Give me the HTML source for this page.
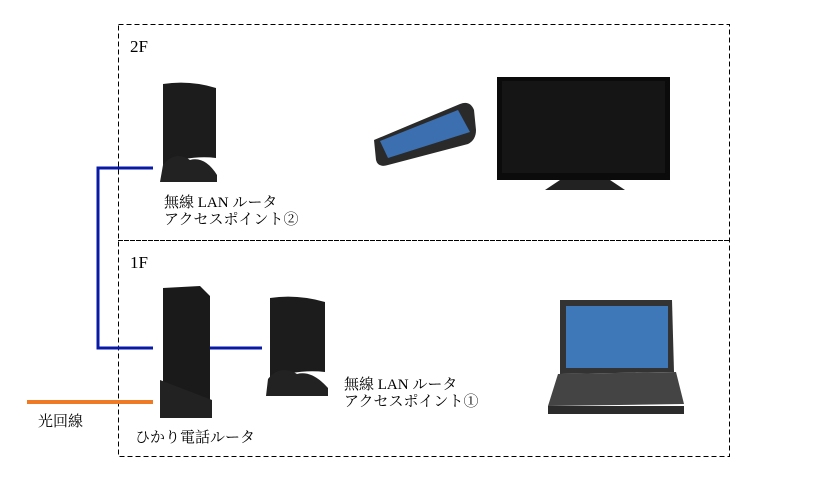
<!DOCTYPE html>
<html><head><meta charset="utf-8"><style>
body{margin:0;width:813px;height:498px;background:#fff;position:relative;overflow:hidden;font-family:"Liberation Serif","Noto Serif CJK SC",serif;}
.t{position:absolute;font-size:15px;color:#000;line-height:17px;white-space:nowrap}
.a{position:absolute}
</style></head><body>
<svg class="a" style="left:0;top:0" width="813" height="498">
<rect x="118.5" y="24.5" width="611" height="432" fill="none" stroke="#000" stroke-dasharray="5,3"/>
<line x1="118" y1="240.5" x2="729" y2="240.5" stroke="#000" stroke-dasharray="5,1"/>
<polyline points="153,168 98,168 98,348 153,348" fill="none" stroke="#0a1aa8" stroke-width="3"/>
<line x1="207" y1="348" x2="262" y2="348" stroke="#0a1aa8" stroke-width="3"/>
<line x1="27" y1="402" x2="153" y2="402" stroke="#ee7a25" stroke-width="4"/>
<path d="M163,84 Q190,80 216,88 L216,158 Q190,155 163,165 Z" fill="#1c1c1c"/>
<path d="M163,165 Q175,150 190,160 Q205,156 217,175 L217,182 L160,182 Z" fill="#222"/>
<path d="M374,140 L460,104 Q470,100 474,110 L476,130 Q476,140 468,144 L388,165 Q378,168 376,160 Z" fill="#2a2a2a"/>
<path d="M380,141 L458,110 L470,132 L388,158 Z" fill="#3b6fb0"/>
<rect x="497" y="77" width="173" height="103" fill="#0b0b0b"/>
<rect x="502" y="81" width="163" height="92" fill="#151515"/>
<path d="M560,180 L610,180 L625,190 L545,190 Z" fill="#222"/>
<path d="M163,288 L200,286 L210,296 L210,408 L170,410 L163,400 Z" fill="#1a1a1a"/>
<path d="M160,380 L212,400 L212,418 L160,418 Z" fill="#222"/>
<path d="M270,298 Q297,294 325,302 L325,372 Q297,369 270,379 Z" fill="#1c1c1c"/>
<path d="M268,379 Q280,364 297,374 Q312,370 328,388 L328,396 L266,396 Z" fill="#222"/>
<path d="M560,300 L672,300 L674,372 L560,374 Z" fill="#333"/>
<rect x="566" y="306" width="102" height="62" fill="#3f78b8"/>
<path d="M558,374 L676,372 L684,404 L548,406 Z" fill="#444"/>
<rect x="548" y="406" width="136" height="8" fill="#2b2b2b"/>
</svg>
<div class="t" style="left:130px;top:38px;font-size:17px">2F</div>
<div class="t" style="left:130px;top:254px;font-size:17px">1F</div>
<div class="t" style="left:164px;top:195px">無線 LAN ルータ<br>アクセスポイント②</div>
<div class="t" style="left:344px;top:377px">無線 LAN ルータ<br>アクセスポイント①</div>
<div class="t" style="left:38px;top:414px">光回線</div>
<div class="t" style="left:135px;top:430px">ひかり電話ルータ</div>
</body></html>
